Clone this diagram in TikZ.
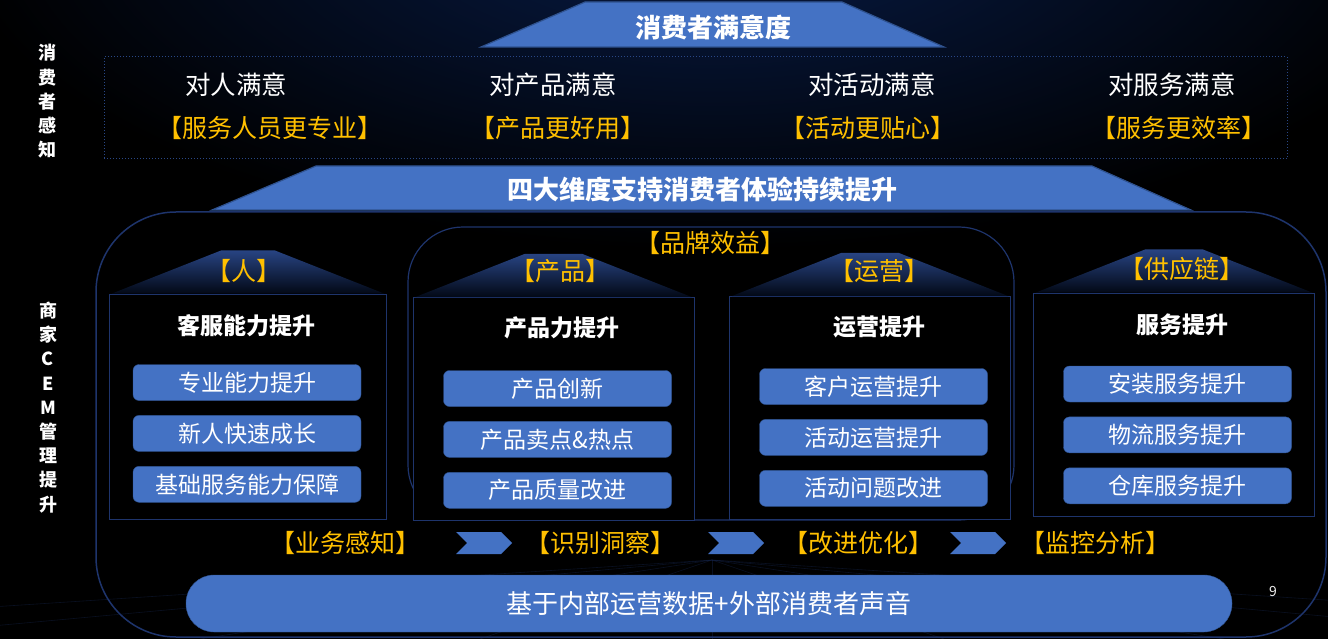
\documentclass[tikz,border=0pt]{standalone}
\usepackage{fontspec}
\setmainfont{Noto Sans CJK SC}
\usetikzlibrary{positioning,shapes.symbols}

\definecolor{cemblue}{RGB}{68,114,196}
\definecolor{cemedge}{RGB}{47,82,143}
\definecolor{cemgold}{RGB}{255,192,0}
\definecolor{cemline}{RGB}{30,52,108}
\definecolor{cemnavy}{RGB}{8,28,72}

\begin{document}
\begin{tikzpicture}[
  x=1pt, y=-1pt, % pixel grid, y runs down
  every node/.style={text=white, inner sep=0pt},
  banner/.style={fill=cemblue, draw=cemedge, line width=1.2pt},
  title/.style={font=\bfseries\fontsize{26}{30}\selectfont},
  feel/.style={font=\fontsize{25.5}{30}\selectfont},
  gold/.style={text=cemgold, font=\fontsize{25}{28}\selectfont},
  side/.style={align=center, font=\bfseries\fontsize{18}{24.2}\selectfont},
  frame/.style={draw=cemline, line width=1.5pt},
  col/.style={draw=cemline, line width=1pt, fill=black, minimum width=281pt, minimum height=223pt},
  tent/.style={top color=cemline!75!cemblue, bottom color=cemnavy!30!black},
  head/.style={font=\bfseries\fontsize{23}{26}\selectfont},
  btn/.style={fill=cemblue, draw=cemedge, rounded corners=6pt, minimum width=228pt, minimum height=36pt, font=\fontsize{23}{26}\selectfont},
  chev/.style={signal, signal to=east, signal from=west, fill=cemblue, minimum width=56pt, minimum height=22pt}
]
\useasboundingbox (0,0) rectangle (1328,639);

% background with a dark glow at the top
\fill[black] (0,0) rectangle (1328,639);
\shade[inner color=cemnavy, outer color=black] (712,-80) ellipse [x radius=760, y radius=330];
\foreach \a in {-500,-150,200,480,712,944,1224,1574,1924}
  \draw[cemline, opacity=0.3, line width=0.6pt] (712,560) -- (\a,639);

% consumer perception
\node[side] (feel) at (47,101.5) {消\\费\\者\\感\\知};
\node[side] (cem) at (48,407.5) {商\\家\\C\\E\\M\\管\\理\\提\\升};

\fill[banner] (481,47) -- (585,2) -- (842,2) -- (944,47) -- cycle;
\node[title] (sat) at (713,27) {消费者满意度};

\node[draw=cemline!70!cemblue, dotted, line width=1pt, minimum width=1183pt, minimum height=102pt] (row) at (695.5,108) {};
\node[feel] (f1) at (236,85) {对人满意};
\node[feel] (f2) at (553,85) {对产品满意};
\node[feel] (f3) at (872,85) {对活动满意};
\node[feel] (f4) at (1172,85) {对服务满意};
\node[gold] (g1) at (270,128) {【服务人员更专业】};
\node[gold] (g2) at (558,128) {【产品更好用】};
\node[gold] (g3) at (868,128) {【活动更贴心】};
\node[gold] (g4) at (1179,128) {【服务更效率】};

\fill[banner] (212,210) -- (316,166) -- (1092,166) -- (1191,210) -- cycle;
\node[title] (dims) at (702,189) {四大维度支持消费者体验持续提升};

% merchant CEM
\node[frame, rounded corners=80pt, minimum width=1230pt, minimum height=425pt] (all) at (711,424.5) {};
\node[frame, line width=1.2pt, rounded corners=55pt, minimum width=606pt, minimum height=293pt] (brand) at (711,373.5) {};
\node[gold] (brandl) at (710,243) {【品牌效益】};

\node[col, minimum width=277pt, minimum height=225pt] (b1) at (248,406.5) {};
\node[col] (b2) at (553.5,409) {};
\node[col] (b3) at (870,408) {};
\node[col] (b4) at (1174,404.5) {};

\foreach \b in {b1,b2,b3,b4}
  \shade[tent] ([xshift=3pt]\b.north west) -- ([xshift=-3pt]\b.north east)
    -- ([shift={(-112,-43)}]\b.north east) -- ([shift={(112,-43)}]\b.north west) -- cycle;

\node[gold] (p1) at (244,271) {【人】};
\node[gold] (p2) at (560,271) {【产品】};
\node[gold] (p3) at (879,271) {【运营】};
\node[gold] (p4) at (1182,269) {【供应链】};

\node[head] (h1) at (246,326) {客服能力提升};
\node[head] (h2) at (562,328) {产品力提升};
\node[head] (h3) at (879,327) {运营提升};
\node[head] (h4) at (1182,325) {服务提升};

\node[btn] (b1a) at (247,382.5) {专业能力提升};
\node[btn, below=14.5pt of b1a] (b1b) {新人快速成长};
\node[btn, below=14.5pt of b1b] (b1c) {基础服务能力保障};

\node[btn] (b2a) at (557.5,388.5) {产品创新};
\node[btn, below=14.5pt of b2a] (b2b) {产品卖点\&热点};
\node[btn, below=14.5pt of b2b] (b2c) {产品质量改进};

\node[btn] (b3a) at (873.5,386.5) {客户运营提升};
\node[btn, below=14.5pt of b3a] (b3b) {活动运营提升};
\node[btn, below=14.5pt of b3b] (b3c) {活动问题改进};

\node[btn] (b4a) at (1177.5,384) {安装服务提升};
\node[btn, below=14.5pt of b4a] (b4b) {物流服务提升};
\node[btn, below=14.5pt of b4b] (b4c) {仓库服务提升};

% loop of the process
\node[gold] (s1) at (345,543) {【业务感知】};
\node[gold] (s2) at (600,543) {【识别洞察】};
\node[gold] (s3) at (858,543) {【改进优化】};
\node[gold] (s4) at (1095,543) {【监控分析】};
\node[chev] (c1) at (484,543) {};
\node[chev] (c2) at (736,543) {};
\node[chev] (c3) at (978,543) {};

\node[btn, rounded corners=28pt, minimum width=1046pt, minimum height=57pt, font=\fontsize{26}{30}\selectfont] (data) at (709,603.5) {基于内部运营数据+外部消费者声音};

\node[text=white!85!gray, font=\fontsize{14}{16}\selectfont] (page) at (1273,592) {9};
\end{tikzpicture}
\end{document}
